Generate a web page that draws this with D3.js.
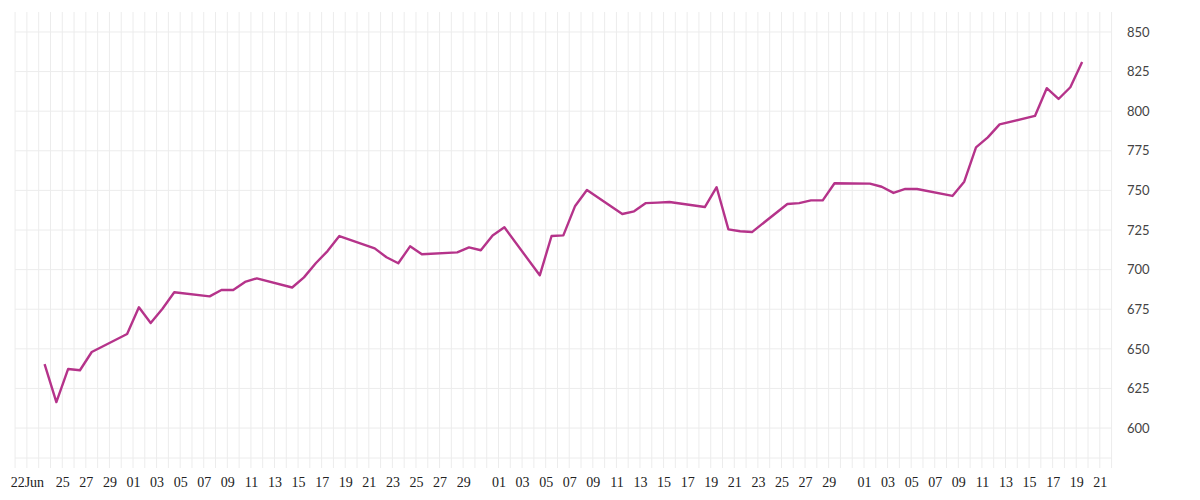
<!DOCTYPE html>
<html><head><meta charset="utf-8">
<script src="https://cdn.jsdelivr.net/npm/d3@7"></script>
<style>body{margin:0;background:#fff}</style></head>
<body><svg id="c" width="1200" height="500"></svg>
<script>
const dates = ["2014-06-23","2014-06-24","2014-06-25","2014-06-26","2014-06-27","2014-06-30",
"2014-07-01","2014-07-02","2014-07-03","2014-07-04","2014-07-07","2014-07-08","2014-07-09","2014-07-10","2014-07-11",
"2014-07-14","2014-07-15","2014-07-16","2014-07-17","2014-07-18","2014-07-21","2014-07-22","2014-07-23","2014-07-24","2014-07-25",
"2014-07-28","2014-07-29","2014-07-30","2014-07-31","2014-08-01","2014-08-04","2014-08-05","2014-08-06","2014-08-07","2014-08-08",
"2014-08-11","2014-08-12","2014-08-13","2014-08-14","2014-08-15","2014-08-18","2014-08-19","2014-08-20","2014-08-21","2014-08-22",
"2014-08-25","2014-08-26","2014-08-27","2014-08-28","2014-08-29","2014-09-01","2014-09-02","2014-09-03","2014-09-04","2014-09-05",
"2014-09-08","2014-09-09","2014-09-10","2014-09-11","2014-09-12","2014-09-15","2014-09-16","2014-09-17","2014-09-18","2014-09-19"];
const values = [640.4,616.4,637.3,636.5,648,659.4,
676.2,666.3,675.3,685.7,683.1,687.1,687.1,692.2,694.5,
688.7,695.1,704,711.7,721.2,713.4,707.8,704,714.7,709.7,
710.9,714,712.2,721.6,726.7,696.4,721.2,721.6,740.2,750.3,
735.1,736.8,742,742.3,742.7,739.5,752,725.4,724.2,723.7,
741.4,742,743.7,743.7,754.5,754.3,752.3,748.4,750.9,750.9,
746.5,755.5,777.2,783.5,791.7,797,814.5,807.7,815.1,831.1];
const yTicks = [600,625,650,675,700,725,750,775,800,825,850];
const xTickDates = ["2014-06-22","2014-06-25","2014-06-27","2014-06-29",
"2014-07-01","2014-07-03","2014-07-05","2014-07-07","2014-07-09","2014-07-11","2014-07-13","2014-07-15","2014-07-17","2014-07-19","2014-07-21","2014-07-23","2014-07-25","2014-07-27","2014-07-29",
"2014-08-01","2014-08-03","2014-08-05","2014-08-07","2014-08-09","2014-08-11","2014-08-13","2014-08-15","2014-08-17","2014-08-19","2014-08-21","2014-08-23","2014-08-25","2014-08-27","2014-08-29",
"2014-09-01","2014-09-03","2014-09-05","2014-09-07","2014-09-09","2014-09-11","2014-09-13","2014-09-15","2014-09-17","2014-09-19","2014-09-21"];

const P = d3.timeParse("%Y-%m-%d");
const data = dates.map((d,i)=>({t:d3.timeHour.offset(P(d),12), v:values[i]}));
const svg = d3.select("#c");
const x = d3.scaleTime().domain([P("2014-06-21"),P("2014-09-22")]).range([15.1,1111.6]);
const y = d3.scaleLinear().domain([581.1,862.6]).range([458,12]);
const g = svg.append("g");
// vertical daily grid
g.selectAll("line.vg").data(d3.timeDay.range(P("2014-06-21"),d3.timeDay.offset(P("2014-09-22"),1)))
 .join("line").attr("x1",d=>x(d)).attr("x2",d=>x(d)).attr("y1",12).attr("y2",468)
 .attr("stroke","#ececec").attr("stroke-width",1);
g.selectAll("line.hg").data(yTicks.concat([581.1]))
 .join("line").attr("x1",15.1).attr("x2",1111.6).attr("y1",d=>y(d)).attr("y2",d=>y(d))
 .attr("stroke","#ececec").attr("stroke-width",1);
// y axis labels
const ya = svg.append("g").attr("transform","translate(1120,0)")
 .call(d3.axisRight(y).tickValues(yTicks).tickSize(0).tickPadding(7));
ya.select(".domain").remove();
ya.selectAll("text").attr("font-family","Lato, sans-serif").attr("font-size",13).attr("fill","#444");
// x axis labels
const xa = svg.append("g").attr("transform","translate(0,468)")
 .call(d3.axisBottom(x).tickValues(xTickDates.map(P)).tickSize(0).tickPadding(9)
   .tickFormat((d,i)=> i===0 ? d3.timeFormat("%d%b")(d) : d3.timeFormat("%d")(d)));
xa.select(".domain").remove();
xa.selectAll("text").attr("font-family","'Liberation Serif', serif").attr("font-size",14).attr("fill","#222");
// line
svg.append("path").datum(data)
 .attr("d",d3.line().x(d=>x(d.t)).y(d=>y(d.v)))
 .attr("fill","none").attr("stroke","#b5338a").attr("stroke-width",2.4).attr("stroke-linejoin","round");
</script></body></html>
